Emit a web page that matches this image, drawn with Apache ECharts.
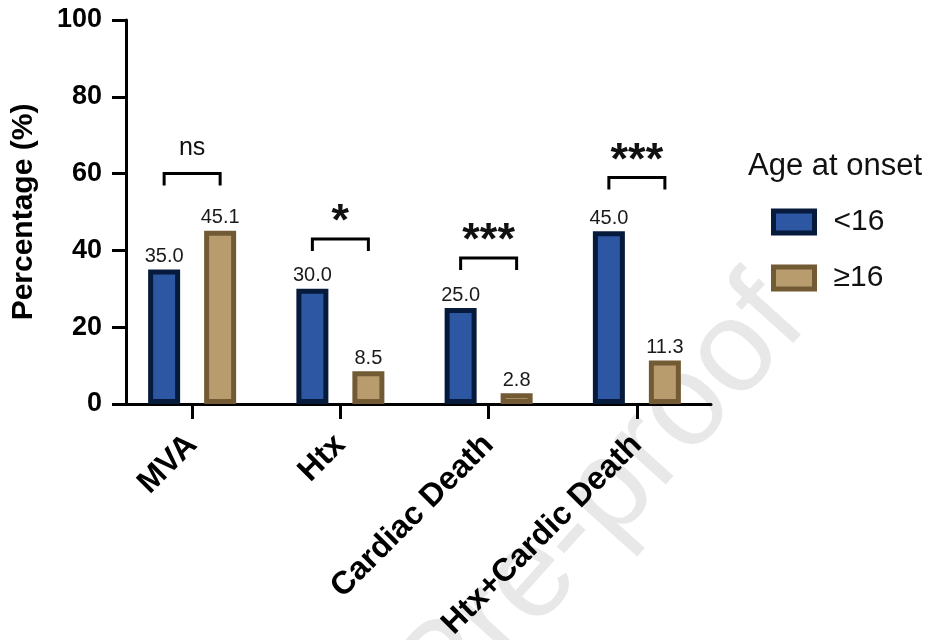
<!DOCTYPE html>
<html>
<head>
<meta charset="utf-8">
<script src="https://cdn.jsdelivr.net/npm/echarts@6/dist/echarts.min.js"></script>
<style>
  html, body { margin: 0; padding: 0; background: #ffffff; }
  #chart { width: 926px; height: 640px; }
</style>
</head>
<body>
<div id="chart"></div>
<script>
// Outcome categories on the x axis
const categories = ['MVA', 'Htx', 'Cardiac Death', 'Htx+Cardic Death'];
// Percentage of patients with each outcome, by age at onset
const under16 = [35.0, 30.0, 25.0, 45.0];
const over16 = [45.1, 8.5, 2.8, 11.3];
const seriesNames = ['<16', '\u226516'];
// Significance brackets: height (in %) of the bracket bar and its label
const bracketLevels = [60, 43, 38, 59];
const bracketLabels = ['ns', '*', '***', '***'];
// Y axis ticks
const yTicks = [0, 20, 40, 60, 80, 100];

const FONT = '"Liberation Sans", Arial, Helvetica, sans-serif';
const BAR_W = 32;
const BAR_GAP = 0.75;
const BLUE = '#2d56a3', BLUE_EDGE = '#061a3c';
const TAN = '#b89c6e', TAN_EDGE = '#725b34';

const chart = echarts.init(document.getElementById('chart'), null, { renderer: 'canvas' });

const valueLabel = {
  show: true,
  position: 'top',
  distance: 3,
  fontFamily: FONT,
  fontSize: 20,
  color: '#1a1a1a',
  formatter: p => p.value.toFixed(1)
};

function renderBracket(params, api) {
  const i = api.value(0);
  const level = api.value(1);
  const top = api.coord([i, level]);
  const off = BAR_W * (1 + BAR_GAP) / 2;
  const leg = 12;
  const x0 = top[0] - off, x1 = top[0] + off, y = top[1];
  const label = bracketLabels[params.dataIndex];
  const isStar = label.indexOf('*') >= 0;
  return {
    type: 'group',
    children: [
      {
        type: 'polyline',
        shape: { points: [[x0, y + leg], [x0, y], [x1, y], [x1, y + leg]] },
        style: { stroke: '#000', lineWidth: 3, fill: null, lineJoin: 'miter', lineCap: 'butt' }
      },
      {
        type: 'text',
        x: top[0],
        y: isStar ? y - 16 : y - 25,
        style: {
          text: label,
          fontFamily: FONT,
          fontSize: isStar ? 45 : 25,
          fontWeight: isStar ? 'bold' : 'normal',
          fill: '#111',
          align: 'center',
          verticalAlign: 'middle'
        }
      }
    ]
  };
}

const option = {
  backgroundColor: '#ffffff',
  animation: false,
  title: {
    text: 'Age at onset',
    left: 743,
    top: 146,
    textStyle: { fontFamily: FONT, fontSize: 31, fontWeight: 'normal', color: '#111' }
  },
  legend: {
    orient: 'vertical',
    left: 766,
    top: 202,
    itemWidth: 41,
    itemHeight: 22,
    itemGap: 26,
    icon: 'rect',
    data: seriesNames,
    textStyle: { fontFamily: FONT, fontSize: 30, color: '#111', padding: [0, 0, 0, 14] },
    itemStyle: { borderWidth: 5 }
  },
  grid: {
    left: 118, right: 215, top: 20, bottom: 236,
    containLabel: false,
    outerBoundsMode: 'none'
  },
  xAxis: {
    type: 'category',
    data: categories,
    boundaryGap: true,
    axisLine: { lineStyle: { color: '#000', width: 3 } },
    axisTick: { show: true, alignWithLabel: true, length: 15, lineStyle: { color: '#000', width: 3 } },
    axisLabel: {
      rotate: 45,
      margin: 36,
      fontFamily: FONT,
      fontSize: 32,
      fontWeight: 'bold',
      color: '#000',
      interval: 0
    }
  },
  yAxis: {
    type: 'value',
    min: yTicks[0],
    max: yTicks[yTicks.length - 1],
    interval: yTicks[1] - yTicks[0],
    offset: -8,
    name: 'Percentage (%)',
    nameLocation: 'middle',
    nameGap: 87,
    nameRotate: 90,
    nameTextStyle: { fontFamily: FONT, fontSize: 30, fontWeight: 'bold', color: '#000' },
    splitLine: { show: false },
    axisLine: { show: true, lineStyle: { color: '#000', width: 3 } },
    axisTick: { show: true, length: 14, lineStyle: { color: '#000', width: 3 } },
    axisLabel: { margin: 24, fontFamily: FONT, fontSize: 27, fontWeight: 'bold', color: '#000' }
  },
  graphic: [
    {
      type: 'text',
      z: -10,
      silent: true,
      x: 372,
      y: 660,
      rotation: 48 * Math.PI / 180,
      style: {
        text: 'Pre-proof',
        fontFamily: FONT,
        fontSize: 130,
        fill: '#e8e8e8',
        align: 'left',
        verticalAlign: 'alphabetic'
      }
    }
  ],
  series: [
    {
      name: seriesNames[0],
      type: 'bar',
      data: under16,
      barWidth: BAR_W,
      barGap: (BAR_GAP * 100) + '%',
      itemStyle: { color: BLUE, borderColor: BLUE_EDGE, borderWidth: 5 },
      label: valueLabel,
      z: 3
    },
    {
      name: seriesNames[1],
      type: 'bar',
      data: over16,
      barWidth: BAR_W,
      barGap: (BAR_GAP * 100) + '%',
      itemStyle: { color: TAN, borderColor: TAN_EDGE, borderWidth: 5 },
      label: valueLabel,
      z: 3
    },
    {
      type: 'custom',
      name: 'brackets',
      renderItem: renderBracket,
      data: bracketLevels.map((v, i) => [i, v]),
      encode: { x: 0, y: 1 },
      silent: true,
      z: 4
    }
  ]
};

chart.setOption(option);
</script>
</body>
</html>
